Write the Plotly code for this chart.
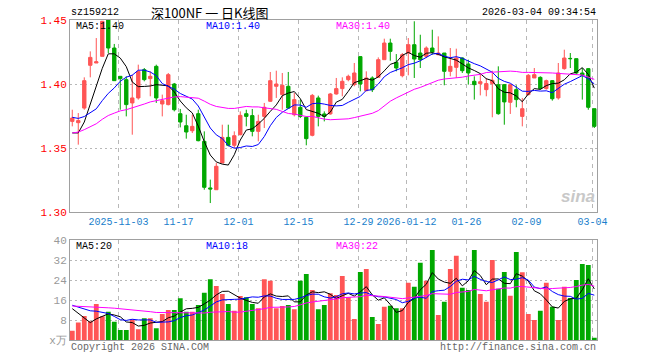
import plotly.graph_objects as go

# ---------------- data ----------------
tick_idx = [8, 18, 28, 38, 48, 56, 66, 76, 87]
tick_labels = ["2025-11-03", "11-17", "12-01", "12-15", "12-29",
               "2026-01-12", "01-26", "02-09", "03-04"]

open_ = [1.3708, 1.3698, 1.3812, 1.4146, 1.4164, 1.4216, 1.4500, 1.4281, 1.4060, 1.4034,
         1.3852, 1.3891, 1.4112, 1.4042, 1.4138, 1.3844, 1.3839, 1.4000, 1.3768, 1.3674,
         1.3635, 1.3768, 1.3552, 1.3188, 1.3174, 1.3383, 1.3583, 1.3521, 1.3604, 1.3768,
         1.3753, 1.3630, 1.3747, 1.3865, 1.3982, 1.3917, 1.3982, 1.3760, 1.3818, 1.3740,
         1.3599, 1.3891, 1.3766, 1.3766, 1.3922, 1.3964, 1.4034, 1.3995, 1.4214, 1.3948,
         1.4047, 1.4052, 1.4190, 1.4320, 1.4169, 1.4065, 1.4242, 1.4307, 1.4242, 1.4216,
         1.4281, 1.4229, 1.4242, 1.4099, 1.4130, 1.4203, 1.4156, 1.4021, 1.4003, 1.3956,
         1.4003, 1.3995, 1.3995, 1.3857, 1.3956, 1.3747, 1.3917, 1.4047, 1.4052, 1.3964,
         1.4026, 1.3891, 1.4120, 1.4200, 1.4198, 1.4086, 1.4120, 1.3807]
high = [1.3799, 1.3773, 1.4052, 1.4255, 1.4359, 1.4490, 1.4530, 1.4313, 1.4060, 1.4060,
        1.4073, 1.4151, 1.4125, 1.4099, 1.4151, 1.3917, 1.4086, 1.4008, 1.3805, 1.3760,
        1.3760, 1.3799, 1.3630, 1.3253, 1.3383, 1.3682, 1.3682, 1.3630, 1.3786, 1.3799,
        1.3805, 1.3760, 1.3852, 1.4094, 1.4104, 1.4086, 1.4094, 1.3930, 1.3878, 1.3747,
        1.3922, 1.3909, 1.3786, 1.3930, 1.4047, 1.4052, 1.4073, 1.4164, 1.4214, 1.4099,
        1.4060, 1.4208, 1.4354, 1.4354, 1.4234, 1.4242, 1.4359, 1.4490, 1.4385, 1.4294,
        1.4424, 1.4372, 1.4242, 1.4281, 1.4276, 1.4208, 1.4190, 1.4060, 1.4078, 1.4047,
        1.4104, 1.4138, 1.4000, 1.4000, 1.3990, 1.3891, 1.4078, 1.4125, 1.4060, 1.4034,
        1.4031, 1.4164, 1.4268, 1.4242, 1.4198, 1.4125, 1.4125, 1.3807]
low = [1.3669, 1.3526, 1.3799, 1.4052, 1.4164, 1.4216, 1.4242, 1.4026, 1.3799, 1.3747,
       1.3604, 1.3878, 1.4021, 1.3904, 1.3852, 1.3747, 1.3833, 1.3786, 1.3661, 1.3573,
       1.3617, 1.3552, 1.3174, 1.3070, 1.3174, 1.3383, 1.3513, 1.3500, 1.3599, 1.3669,
       1.3591, 1.3552, 1.3656, 1.3860, 1.3891, 1.3799, 1.3807, 1.3747, 1.3734, 1.3521,
       1.3591, 1.3669, 1.3708, 1.3760, 1.3917, 1.3904, 1.4021, 1.3982, 1.3943, 1.3943,
       1.3937, 1.4047, 1.4190, 1.4182, 1.4099, 1.4052, 1.4068, 1.4047, 1.4125, 1.4203,
       1.4229, 1.4224, 1.3990, 1.4060, 1.4047, 1.4086, 1.3995, 1.3878, 1.3911, 1.3904,
       1.3740, 1.3760, 1.3682, 1.3766, 1.3818, 1.3669, 1.3911, 1.4047, 1.3956, 1.3956,
       1.3870, 1.3878, 1.4112, 1.4125, 1.4073, 1.3878, 1.3799, 1.3656]
close = [1.3734, 1.3714, 1.4026, 1.4208, 1.4174, 1.4490, 1.4281, 1.4026, 1.4042, 1.3839,
         1.3891, 1.4099, 1.4034, 1.4060, 1.3891, 1.3870, 1.4073, 1.3799, 1.3703, 1.3625,
         1.3669, 1.3557, 1.3193, 1.3180, 1.3357, 1.3583, 1.3521, 1.3596, 1.3755, 1.3747,
         1.3630, 1.3708, 1.3818, 1.4026, 1.4000, 1.3990, 1.3812, 1.3878, 1.3747, 1.3573,
         1.3911, 1.3747, 1.3747, 1.3922, 1.3964, 1.4021, 1.4060, 1.4086, 1.4000, 1.4047,
         1.3956, 1.4190, 1.4320, 1.4255, 1.4125, 1.4229, 1.4307, 1.4195, 1.4190, 1.4281,
         1.4250, 1.4242, 1.4099, 1.4138, 1.4203, 1.4104, 1.4086, 1.3995, 1.4018, 1.4003,
         1.4029, 1.3768, 1.3860, 1.3995, 1.3878, 1.3807, 1.4068, 1.4073, 1.3964, 1.4026,
         1.3885, 1.4086, 1.4203, 1.4198, 1.4086, 1.4068, 1.3818, 1.3669]
volume = [3.7, 7.0, 9.6, 7.5, 14.4, 9.5, 11.3, 7.3, 4.0, 4.0,
          8.3, 4.3, 8.7, 8.7, 4.7, 10.4, 12.0, 12.0, 16.7, 11.3,
          11.3, 14.0, 18.9, 24.3, 21.6, 18.4, 14.4, 11.7, 17.6, 17.1,
          14.4, 12.7, 24.3, 23.7, 12.7, 13.6, 14.0, 12.3, 23.7, 26.4,
          20.0, 12.3, 14.0, 18.7, 18.0, 25.6, 17.1, 8.4, 27.2, 28.4,
          9.2, 6.4, 13.3, 13.7, 12.7, 12.7, 22.9, 21.3, 30.9, 23.7,
          36.0, 10.0, 15.3, 28.4, 33.7, 20.9, 20.0, 36.0, 18.4, 15.3,
          32.0, 20.5, 27.2, 17.7, 35.2, 27.1, 10.4, 8.0, 11.7, 22.9,
          13.3, 8.0, 21.3, 16.8, 24.0, 30.4, 30.0, 0.9]

# history before the visible window (needed for the moving averages)
prior_close = [1.350, 1.346, 1.352, 1.348, 1.344, 1.340, 1.346, 1.352, 1.356, 1.350,
               1.358, 1.362, 1.356, 1.360, 1.366, 1.362, 1.358, 1.364, 1.370, 1.372,
               1.380, 1.388, 1.392, 1.386, 1.385, 1.3714, 1.360, 1.352, 1.352]
prior_volume = [12, 15, 11, 14, 13, 16, 12, 10, 14, 15, 13, 12, 16, 14, 11, 13, 15, 12, 14, 17,
                14, 17, 15.3, 16, 14, 16, 19, 17, 7]

# ---------------- derived ----------------
n = len(close)
x = list(range(n))


def moving_avg(hist, vals, w):
    s = hist + vals
    off = len(hist)
    return [sum(s[off + i - w + 1: off + i + 1]) / w for i in range(n)]


ma5 = moving_avg(prior_close, close, 5)
ma10 = moving_avg(prior_close, close, 10)
ma30 = moving_avg(prior_close, close, 30)
vma5 = moving_avg(prior_volume, volume, 5)
vma10 = moving_avg(prior_volume, volume, 10)
vma30 = moving_avg(prior_volume, volume, 30)

RED = "#ff5555"
GREEN = "#00a800"
vol_colors = [RED if c >= o else GREEN for o, c in zip(open_, close)]

fig = go.Figure()
fig.add_trace(go.Candlestick(
    x=x, open=open_, high=high, low=low, close=close,
    increasing=dict(line=dict(color=RED, width=1), fillcolor=RED),
    decreasing=dict(line=dict(color=GREEN, width=1), fillcolor=GREEN),
    whiskerwidth=0, xaxis="x", yaxis="y", showlegend=False, hoverinfo="skip"))
for arr, col in [(ma5, "#000000"), (ma10, "#0000ff"), (ma30, "#ff00ff")]:
    fig.add_trace(go.Scatter(x=x, y=arr, mode="lines", line=dict(color=col, width=1),
                             xaxis="x", yaxis="y", showlegend=False, hoverinfo="skip"))
fig.add_trace(go.Bar(x=x, y=volume, marker=dict(color=vol_colors, line=dict(width=0)),
                     width=0.8, xaxis="x2", yaxis="y2", showlegend=False, hoverinfo="skip"))
for arr, col in [(vma5, "#000000"), (vma10, "#0000ff"), (vma30, "#ff00ff")]:
    fig.add_trace(go.Scatter(x=x, y=arr, mode="lines", line=dict(color=col, width=1),
                             xaxis="x2", yaxis="y2", showlegend=False, hoverinfo="skip"))

MONO = "Liberation Mono, DejaVu Sans Mono, monospace"
GRID = "#b8b8b8"
FRAME = "#a0a0a0"
xr = [-0.38, 87.45]
tv = [t - 0.3 for t in tick_idx]

L, R, T, B = 70, 63, 20, 20
W, H = 660, 360
PW, PH = W - L - R, H - T - B


def px(v):
    return (v - L) / PW


def py(v):
    return (H - B - v) / PH


common_x = dict(range=xr, tickvals=tv, showgrid=True, gridcolor=GRID, griddash="4px,4px",
                gridwidth=1, showline=True, linecolor=FRAME, mirror=True, zeroline=False,
                ticks="", fixedrange=True)

fig.update_layout(
    width=W, height=H, margin=dict(l=L, r=R, t=T, b=B),
    paper_bgcolor="white", plot_bgcolor="white",
    boxgap=0.2, bargap=0.2,
    xaxis=dict(**common_x, domain=[0, 1], anchor="y", ticktext=tick_labels,
               tickfont=dict(family=MONO, size=10, color="#1a80cc"),
               rangeslider=dict(visible=False)),
    yaxis=dict(domain=[0.4, 1], range=[1.30, 1.45], tickvals=[1.30, 1.35, 1.40, 1.45],
               ticktext=["1.30", "1.35", "1.40", "1.45"],
               tickfont=dict(family=MONO, size=11, color="#ff0000"),
               showgrid=True, gridcolor=GRID, griddash="2px,3px", showline=True,
               linecolor=FRAME, mirror=True, zeroline=False, ticks=""),
    xaxis2=dict(**common_x, domain=[0, 1], anchor="y2", showticklabels=False),
    yaxis2=dict(domain=[0, 0.3125], range=[0, 40], tickvals=[0, 8, 16, 24, 32, 40],
                ticktext=["x万", "8", "16", "24", "32", "40"],
                tickfont=dict(family=MONO, size=11, color="#999999"),
                showgrid=True, gridcolor=GRID, griddash="2px,3px", showline=True,
                linecolor=FRAME, mirror=True, zeroline=False, ticks=""),
)


def label(text, x, y, color="#000000", size=10, xanchor="left", family=MONO, **kw):
    fig.add_annotation(text=text, x=px(x), y=py(y), xref="paper", yref="paper",
                       xanchor=xanchor, yanchor="middle", showarrow=False,
                       font=dict(family=family, size=size, color=color), **kw)


label("sz159212", 69, 13, size=10)
label("深100NF 一 日K线图", 209, 12, size=13, xanchor="center",
      family="Noto Sans CJK SC")
label("2026-03-04 09:34:54", 598, 12, size=10, xanchor="right")
label("MA5:%.2f" % ma5[-1], 74, 27)
label("MA10:%.2f" % ma10[-1], 204, 27, color="#0000ff")
label("MA30:%.2f" % ma30[-1], 334, 27, color="#ff00ff")
label("MA5:%d" % round(vma5[-1]), 74, 246)
label("MA10:%d" % round(vma10[-1]), 204, 246, color="#0000ff")
label("MA30:%d" % round(vma30[-1]), 334, 246, color="#ff00ff")
label("Copyright 2026 SINA.COM", 69, 347, color="#666666")
label("http://finance.sina.com.cn", 598, 347, color="#666666", xanchor="right")
label("<i><b>sina</b></i>", 597, 196, color="#c8c8c8", size=17, xanchor="right",
      family="Liberation Sans")

fig.write_html("out.html", config={"displayModeBar": False, "staticPlot": True},
               post_script="document.body.style.margin='0px';document.body.style.padding='0px';")
